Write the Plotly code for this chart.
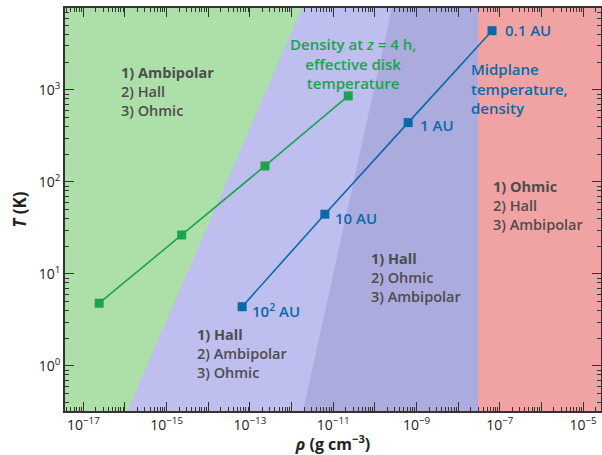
import math
import plotly.graph_objects as go

# ---- data ----
rho_disk = [2.4e-17, 2.3e-15, 2.3e-13, 2.3e-11]
T_disk = [4.8, 26.5, 149, 860]

rho_mid = [6.5e-14, 6.3e-12, 6.3e-10, 6.5e-8]
T_mid = [4.4, 44.6, 441, 4400]
mid_labels = ["10<sup>2</sup> AU", "10 AU", "1 AU", "0.1 AU"]

# region boundaries (rho at T_lo and T_hi)
T_edges = [0.1, 1e4]
rho_b1 = [3.7e-17, 2.26e-12]      # ambipolar | hall
rho_b2 = [1.07e-12, 2.9e-10]      # hall light | hall dark
rho_b3 = 3.0e-8                   # hall | ohmic
rho_lo, rho_hi = 1e-18, 1e-4

x_ticks = [10.0**e for e in range(-17, -4)]
x_text = [f"10<sup>\u2212{-e}</sup>" if e % 2 == 1 else "" for e in range(-17, -4)]
y_ticks = [1, 10, 100, 1000]
y_text = ["10<sup>0</sup>", "10<sup>1</sup>", "10<sup>2</sup>", "10<sup>3</sup>"]

GREEN_FILL = "#addfa9"
LAV_FILL = "#bebeef"
LAV2_FILL = "#ababdd"
RED_FILL = "#f1a3a3"
GREEN = "#1ba44b"
BLUE = "#0b69a8"
GRAY = "#4d4d4d"
FONT = "Open Sans"

fig = go.Figure()

def region(xs, ys, color):
    fig.add_trace(go.Scatter(x=xs, y=ys, fill="toself", fillcolor=color, mode="lines",
                             line=dict(width=0), hoverinfo="skip", showlegend=False))

region([rho_lo, rho_hi, rho_hi, rho_lo], [T_edges[0], T_edges[0], T_edges[1], T_edges[1]], LAV_FILL)
region([rho_b2[0], rho_b3, rho_b3, rho_b2[1]], [T_edges[0], T_edges[0], T_edges[1], T_edges[1]], LAV2_FILL)
region([rho_lo, rho_b1[0], rho_b1[1], rho_lo], [T_edges[0], T_edges[0], T_edges[1], T_edges[1]], GREEN_FILL)
region([rho_b3, rho_hi, rho_hi, rho_b3], [T_edges[0], T_edges[0], T_edges[1], T_edges[1]], RED_FILL)

fig.add_trace(go.Scatter(x=rho_disk, y=T_disk, mode="lines+markers",
                         line=dict(color=GREEN, width=1.6),
                         marker=dict(symbol="square", size=9, color=GREEN),
                         showlegend=False))
fig.add_trace(go.Scatter(x=rho_mid, y=T_mid, mode="lines+markers",
                         line=dict(color=BLUE, width=1.6),
                         marker=dict(symbol="square", size=9, color=BLUE),
                         showlegend=False))

def L(v):
    return math.log10(v)

shifts = [(8, -4), (8, -4), (10, -2), (11, 1)]
for r, t, lab, (dx, dy) in zip(rho_mid, T_mid, mid_labels, shifts):
    fig.add_annotation(x=L(r), y=L(t), text=lab, showarrow=False, xanchor="left",
                       yanchor="middle", xshift=dx, yshift=dy,
                       font=dict(family=FONT, size=15, color=BLUE, weight=600))

def block(x, y, lines):
    txt = "<b>" + lines[0] + "</b><br>" + "<br>".join(lines[1:])
    fig.add_annotation(x=x, y=y, text=txt, showarrow=False, xanchor="left", yanchor="middle",
                       align="left", font=dict(family=FONT, size=14.5, color=GRAY, weight=600))

block(-16.14, 2.98, ["1) Ambipolar", "2) Hall", "3) Ohmic"])
block(-14.31, 0.13, ["1) Hall", "2) Ambipolar", "3) Ohmic"])
block(-10.14, 0.957, ["1) Hall", "2) Ohmic", "3) Ambipolar"])
block(-7.22, 1.74, ["1) Ohmic", "2) Hall", "3) Ambipolar"])

fig.add_annotation(x=-10.53, y=3.29, text="Density at <i>z</i> = 4 h,<br>effective disk<br>temperature",
                   showarrow=False, xanchor="center", yanchor="middle", align="center",
                   font=dict(family=FONT, size=15, color=GREEN, weight=600))
fig.add_annotation(x=-7.74, y=3.01, text="Midplane<br>temperature,<br>density",
                   showarrow=False, xanchor="left", yanchor="middle", align="left",
                   font=dict(family=FONT, size=15, color=BLUE, weight=600))

axis_common = dict(showline=True, linecolor="#333333", linewidth=1.5, mirror="allticks",
                   ticks="inside", ticklen=9, tickwidth=1.2, tickcolor="#333333",
                   showgrid=False, zeroline=False, automargin=False,
                   tickfont=dict(family=FONT, size=14, color="#222222"),
                   minor=dict(ticks="inside", ticklen=4, tickwidth=1, tickcolor="#333333",
                              dtick="D1", showgrid=False))

fig.update_xaxes(type="log", range=[-17.44, -4.57], tickmode="array", tickvals=x_ticks,
                 ticktext=x_text,
                 title=dict(text="<b><i>\u03c1</i> (g cm<sup>\u22123</sup>)</b>",
                            font=dict(family=FONT, size=16, color="#222222"), standoff=8),
                 **axis_common)
fig.update_yaxes(type="log", range=[-0.49, 3.89], tickmode="array", tickvals=y_ticks,
                 ticktext=y_text,
                 title=dict(text="<b><i>T</i> (K)</b>",
                            font=dict(family=FONT, size=17, color="#222222"), standoff=8),
                 **axis_common)

fig.update_layout(width=602, height=455, margin=dict(l=65, r=1, t=8, b=44),
                  paper_bgcolor="white", plot_bgcolor="white", showlegend=False,
                  hovermode=False)

fig.write_html("out.html", config={"displayModeBar": False},
               post_script="document.body.style.margin='0px';")
